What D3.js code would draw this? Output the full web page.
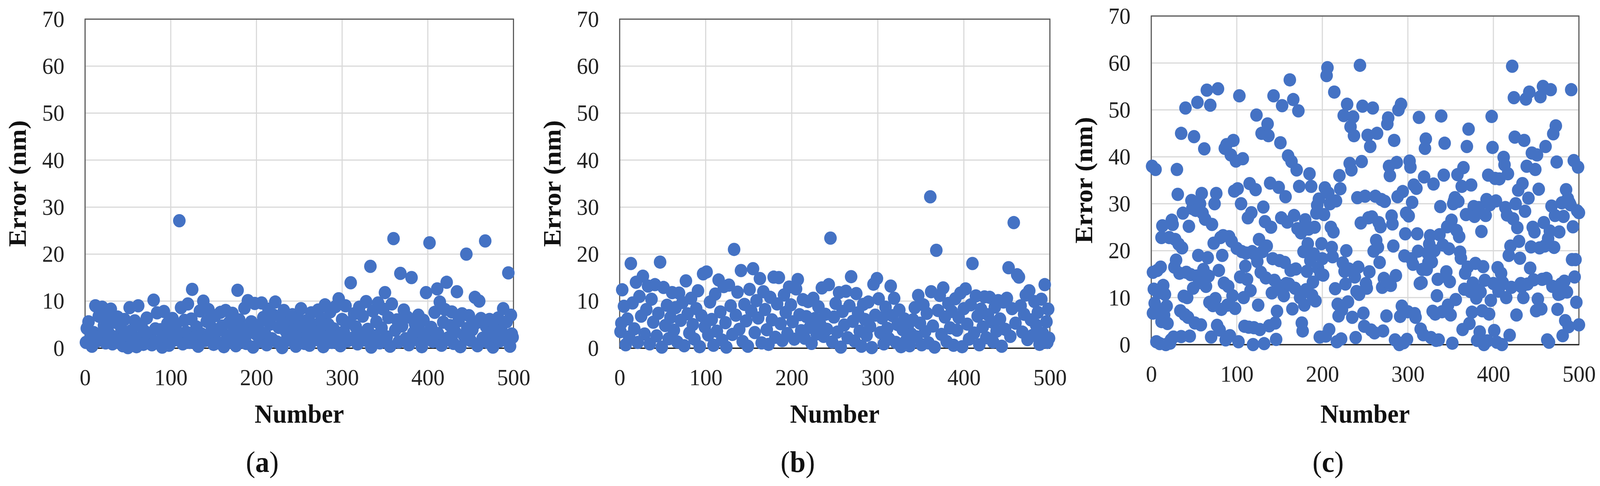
<!DOCTYPE html>
<html lang="en">
<head>
<meta charset="UTF-8">
<title>Error scatter</title>
<script src="https://d3js.org/d3.v7.min.js"></script>
<style>
  html, body { margin: 0; background: white; overflow: hidden; width: 100vw; height: 100vh; }
  svg { display: block; width: 100vw; height: 100vh; }
  .tick text { font-family: "Liberation Serif", "DejaVu Serif", serif; font-size: 60px; fill: #222; }
  .title { font-family: "Liberation Serif", "DejaVu Serif", serif; font-weight: bold; font-size: 68px; fill: #111; }
  .label { font-family: "Liberation Serif", "DejaVu Serif", serif; font-size: 76px; fill: #111; }
</style>
</head>
<body>
<div id="chart"></div>
<script>
// tick labels
const xTicks = [0, 100, 200, 300, 400, 500];
const yTicks = [0, 10, 20, 30, 40, 50, 60, 70];
const panelLabels = ["a", "b", "c"];

// panel (a): [number, error]
const errorsA = [
  [1,1.2],[2,4.2],[4,5.6],[6,2.1],[8,0.4],[10,3.3],[12,9],[14,1.5],[16,6.8],[18,2.6],[20,8.7],[22,4.8],[24,1.1],[26,7.2],[28,3.1],[30,8.3],[32,0.9],[34,5.5],[36,2.4],[38,6.6],[40,1.6],[42,4.4],[44,0.5],[46,6.1],[48,2.9],[50,0.1],[52,8.6],[54,3.7],[56,1.3],[58,5.8],[60,0.3],[62,9],[64,2.2],[66,4.6],[68,0.8],[70,3.5],[72,6.4],[74,1.9],[76,2.8],[78,0.7],[80,10.2],[82,4.1],[84,7.5],[86,1.4],[88,3.9],[90,0.2],[92,7.8],[94,2.5],[96,5.2],[98,0.6],[100,3.2],[102,6.3],[104,1.7],[106,4.9],[108,2.7],[110,27.1],[112,8.6],[114,0.9],[116,5.9],[118,3.4],[120,9.4],[122,1.2],[124,6.2],[125,12.5],[128,2.3],[130,4.5],[132,0.4],[134,7.9],[136,3],[138,10],[140,1.6],[142,5.7],[144,8.2],[146,2.1],[148,4.3],[150,0.8],[152,6.9],[154,3.6],[156,1.1],[158,7.6],[160,4.7],[162,0.3],[164,8],[166,2.6],[168,5.4],[170,1.5],[172,7.4],[174,3.8],[176,0.5],[178,12.3],[180,6],[182,2.4],[184,4.2],[186,8.5],[188,1],[190,10.1],[192,3.3],[194,5.6],[196,0.2],[198,9.5],[200,2.9],[202,4.8],[204,1.4],[206,9.6],[208,6.5],[210,3.1],[212,0.7],[214,8.3],[216,5.1],[218,2],[220,7],[222,9.8],[224,1.3],[226,4.4],[228,6.7],[230,0.1],[232,8],[234,3.7],[236,2.2],[238,5.3],[240,1.6],[242,7.1],[244,3.9],[246,0.4],[248,6.4],[250,2.8],[252,8.4],[254,4.6],[256,1],[258,5.8],[260,3.4],[262,0.6],[264,7.5],[266,2.5],[268,4.9],[270,1.8],[272,8.1],[274,3.6],[276,6.2],[278,0.3],[280,9.2],[282,2.7],[284,5],[286,7.7],[288,1.2],[290,4.1],[292,8.8],[294,2.3],[296,10.5],[298,0.5],[300,6.1],[302,3.5],[304,9],[306,1.5],[308,5.4],[310,13.9],[312,2.1],[314,7.3],[316,4.5],[318,0.9],[320,8.7],[322,3],[324,6.8],[326,1.7],[328,9.9],[330,4],[333,17.4],[334,0.2],[336,7.9],[338,2.6],[340,5.6],[342,9.6],[344,1.1],[346,4.3],[348,8.3],[350,11.8],[352,2.4],[354,6.5],[356,0.4],[358,9.4],[360,23.3],[362,3.8],[364,6],[366,1.3],[368,15.9],[370,4.7],[372,8.1],[374,2],[376,6.6],[378,0.7],[381,15],[383,3.2],[385,5.2],[387,1.8],[389,7],[391,3.6],[393,0.3],[395,5.9],[398,11.8],[400,2.5],[402,22.4],[404,4.4],[406,1.4],[408,7.6],[411,12.6],[412,3.1],[414,9.8],[416,0.6],[418,5.5],[420,8.2],[422,14],[424,2.2],[426,4.8],[428,7.7],[430,1],[432,3.4],[434,12],[436,5.8],[438,0.3],[440,7.3],[442,2.7],[445,20],[446,4.2],[448,6.9],[450,1.6],[452,3.9],[455,10.8],[456,5.3],[458,0.5],[460,10],[462,6.3],[464,2.1],[467,22.8],[468,4.6],[470,1.2],[472,6.1],[474,3.3],[476,0.2],[478,5],[480,2.4],[482,6.4],[484,1.5],[486,3.7],[488,8.4],[490,2.8],[492,5.6],[494,16],[496,0.4],[497,7],[498,3],[499,2.3]
];

// panel (b): [number, error]
const errorsB = [
  [1,3.5],[2,5.3],[3,12.4],[5,8.9],[7,0.7],[9,6.2],[11,2.4],[13,18],[15,9.6],[17,4.1],[19,14],[21,1.2],[23,11],[25,6.8],[27,15.3],[29,3],[31,8.2],[33,13.2],[35,0.9],[37,10.4],[39,5.5],[41,13.5],[43,2.6],[45,7.4],[47,18.3],[49,0.2],[51,12.9],[53,4.8],[55,9.1],[57,2],[59,6.5],[61,11.8],[63,3.8],[65,8.6],[67,1.3],[69,11.7],[71,5.9],[73,9.7],[75,0.5],[77,14.3],[79,7.3],[81,3.2],[83,10.6],[85,5],[87,1.9],[89,8.4],[91,12.2],[93,0.3],[95,6.9],[97,15.8],[99,4.5],[101,16.2],[103,2.8],[105,9.8],[107,6.1],[109,0.6],[111,11.5],[113,3.6],[115,14.5],[117,7.7],[119,1.7],[121,13.1],[123,5.4],[124,0.2],[127,13.4],[129,9],[131,2.9],[133,21],[135,7],[137,11.9],[139,4],[141,16.5],[143,1.4],[145,9.3],[147,5.8],[149,0.4],[151,12.5],[153,7.9],[155,16.9],[157,3.3],[159,10.1],[161,6.4],[163,14.8],[165,1.1],[167,12],[169,8.2],[171,3.9],[173,0.8],[175,10.8],[177,6],[179,15.1],[181,2.3],[183,9.4],[185,15],[187,5.2],[189,1.6],[191,11.3],[193,7.6],[195,3.1],[197,13],[199,9.2],[201,5.6],[203,1.9],[205,12.6],[207,14.6],[209,7.1],[211,3.7],[213,10.3],[215,2.1],[217,6.7],[219,9.9],[221,4.4],[223,1],[225,10.6],[227,6.3],[229,3],[231,8.8],[233,5.1],[235,12.8],[237,2.5],[239,7.2],[241,4],[243,13.5],[245,23.4],[247,1.3],[249,6.6],[251,9.5],[253,3.4],[255,11.8],[257,0.2],[259,7.8],[261,4.9],[263,12.1],[265,2.2],[267,9],[269,15.2],[271,5.7],[273,1.5],[275,11.6],[277,7.5],[279,3.6],[281,0.4],[283,9.3],[285,6.1],[287,2.7],[289,9.8],[291,4.6],[293,0.1],[295,13.6],[297,7],[299,14.8],[301,10.5],[303,3.3],[305,6.4],[307,0.9],[309,8.7],[311,4.2],[313,2],[315,13.2],[317,6.9],[319,10.6],[321,1.2],[323,5],[325,8.1],[327,0.3],[329,3.9],[331,6.2],[333,1.6],[335,4.8],[337,0.5],[339,3],[341,6],[343,8.6],[345,2.4],[347,11.2],[349,5.3],[351,0.7],[353,9.2],[355,3.5],[357,7.4],[359,1.1],[361,32.2],[362,12],[364,4.7],[366,0.2],[368,20.8],[370,8],[372,11.2],[374,2.9],[376,12.8],[378,6.6],[380,1.4],[382,9.5],[384,4.3],[386,7.8],[388,0.6],[390,10.5],[392,3.8],[394,6.5],[396,11.7],[398,0.3],[400,8.4],[402,12.6],[404,5.1],[406,1.9],[408,9.2],[410,18],[412,3.2],[414,11.1],[416,6.8],[418,0.7],[420,8.3],[422,4.5],[424,10.9],[426,2.2],[428,7.1],[430,10.8],[432,5.6],[434,1.3],[436,8.7],[438,3.6],[440,10.1],[442,6.2],[444,0.4],[446,9.8],[448,4],[450,10.6],[452,17.1],[454,2.5],[456,8.4],[458,26.7],[460,5.3],[462,15.6],[464,15.1],[466,9],[468,3.4],[470,7.2],[472,11.3],[474,1.8],[476,12.2],[478,6],[480,2.7],[482,9.9],[484,4.9],[486,7.6],[488,0.8],[490,10.4],[492,3.1],[494,13.5],[496,5.6],[497,1.2],[498,8.3],[499,2.1]
];

// panel (c): [number, error]
const errorsC = [
  [1,38],[2,15.4],[2,6.7],[3,11.8],[4,8.8],[5,37.3],[6,0.6],[7,15.8],[8,11],[9,7.5],[10,0.2],[11,16.5],[12,4.9],[12,22.8],[13,25.3],[14,12.6],[15,6.3],[16,10.7],[17,0],[18,8.2],[19,4.5],[21,22.8],[22,0.3],[23,1],[24,26.5],[25,25.6],[26,1.6],[27,16.5],[28,22.4],[29,18],[30,37.3],[31,32],[32,21.4],[33,15.2],[34,7.2],[35,1.7],[35,45],[36,20.6],[37,28],[38,10.3],[39,6.4],[40,50.4],[41,15.4],[42,10],[43,5.8],[44,25.2],[45,1.8],[46,14.9],[47,30.7],[48,29],[49,12],[50,44.3],[51,4.6],[52,28.6],[53,14.6],[54,51.6],[55,19],[56,13.2],[57,30],[58,4.2],[59,32.2],[60,28],[61,16],[62,41.7],[63,26.7],[64,12.4],[65,54.2],[66,18.5],[67,14.6],[68,9],[69,51],[70,1.6],[71,25.6],[72,8.3],[73,21.6],[74,30],[75,9.8],[76,32.2],[77,4.1],[78,54.5],[79,15.8],[80,3.1],[81,22.8],[82,7.5],[83,19],[84,23.2],[85,13.1],[86,41.8],[87,1],[88,42.6],[89,8.4],[90,12.4],[91,23],[92,1.9],[93,40.4],[94,22],[95,10.4],[96,43.5],[97,32.7],[98,7.7],[99,39.1],[100,20.5],[101,33.2],[102,0.6],[103,53],[104,14.4],[105,30],[106,19.8],[107,39.6],[108,10],[109,3.9],[110,16.7],[111,19.5],[112,13.9],[113,27],[114,3.7],[115,34.3],[116,11.5],[117,28.1],[118,19.8],[119,0],[120,3.6],[121,19.2],[122,33],[123,48.9],[124,17.7],[125,8.4],[126,22.4],[127,3.2],[128,15.4],[129,45],[130,19.8],[131,29.3],[132,0.2],[133,26.2],[134,14.2],[135,21],[136,47],[137,44.5],[138,4],[139,34.4],[140,25],[141,11],[142,18.3],[143,53],[144,13.7],[145,4.6],[146,1.1],[147,7.1],[148,12.7],[149,33.5],[150,17.9],[151,43],[152,27],[153,50.9],[154,11.6],[155,10.4],[156,17.5],[157,31.5],[158,13],[159,26.1],[160,40.2],[161,12.9],[162,56.4],[163,15.8],[164,39],[165,7.6],[166,52.2],[167,27.5],[168,12],[169,16.1],[170,37.2],[171,24.7],[172,49.8],[173,33.7],[174,10],[175,23.8],[176,4.6],[177,2.9],[178,19.8],[179,8.4],[180,26.6],[181,11.7],[182,15.6],[183,21.5],[184,24.6],[185,36.4],[186,17.9],[187,33.7],[188,10.5],[189,13.3],[190,19.3],[191,25],[192,9.3],[193,28],[194,29.7],[195,16.3],[196,31],[197,1.6],[198,15],[199,21.5],[200,18.3],[201,14.8],[202,27.7],[203,33.4],[204,1.8],[205,57.3],[206,59],[207,32.3],[208,3.2],[209,30],[210,25],[211,20.7],[212,18.7],[213,24],[214,53.8],[215,11.9],[216,30.6],[217,0.6],[218,8.6],[219,6.1],[220,36],[221,33.2],[222,1.2],[223,7.4],[224,17.4],[225,48.8],[226,15.6],[227,12.9],[228,20],[229,51.2],[230,9.1],[231,16.1],[232,38.6],[233,46.4],[234,37.2],[235,5.8],[236,48.5],[237,44.5],[238,14.4],[239,1.5],[240,11.3],[241,31.3],[242,16.5],[243,10.7],[244,59.5],[245,25.9],[246,39],[247,50.8],[248,6.7],[249,3.9],[250,31.6],[251,13],[252,12],[253,44.6],[254,27],[255,15.5],[256,42.2],[257,3.1],[258,27.2],[259,50.4],[260,19.9],[261,2.5],[262,31.6],[263,22.2],[264,45],[265,20.7],[266,26],[267,17.5],[268,25.1],[269,30.9],[270,12.2],[271,2.9],[272,14.1],[273,30.5],[274,13.5],[275,6.1],[276,47],[277,48.3],[278,38],[279,36],[280,12.6],[281,27.4],[282,25.7],[283,21],[284,43.5],[285,1],[286,14.7],[287,38.8],[288,31.5],[289,50],[290,0],[291,6],[292,51.2],[293,8.2],[294,32.6],[295,0.4],[296,18.9],[297,23.6],[298,28],[299,1.1],[300,7],[301,27.4],[302,39.1],[303,37.8],[304,18.3],[305,30.3],[306,17.1],[307,34],[308,6.6],[309,5.8],[310,33.3],[311,23.6],[312,19.9],[313,48.4],[314,13],[315,3.3],[316,13.2],[317,16],[318,2.1],[319,35.7],[320,41.8],[321,43.8],[322,16],[323,19.5],[324,17.5],[325,21.4],[326,23.2],[327,1.5],[328,17.6],[329,7.1],[330,34.2],[331,20],[332,6.5],[333,0.9],[334,10.4],[335,13.9],[336,1],[337,23.4],[338,29.4],[339,48.7],[340,7],[341,21.2],[342,36.1],[343,42.9],[344,14.5],[345,15.5],[346,25.1],[347,8.4],[348,20.4],[349,13.4],[350,6.3],[351,26.5],[352,0.3],[353,30],[354,30.6],[355,31.3],[356,9.6],[357,24.3],[358,36.2],[359,30.5],[360,23],[361,19.7],[362,18.4],[363,33.7],[364,3.2],[365,37.7],[366,11.8],[367,15.2],[368,27.7],[369,42.2],[370,16.5],[371,45.9],[372,4.5],[373,11.3],[374,34],[375,6.9],[376,13.1],[377,29.4],[378,27.3],[379,17.3],[380,9.9],[381,0.9],[382,11.7],[383,29.2],[384,2.7],[385,11.2],[386,24.1],[387,7.2],[388,16.6],[389,0],[390,13.7],[391,27.5],[392,30.9],[393,0.8],[394,36.1],[395,6.5],[396,29.8],[397,9.4],[398,48.6],[399,42],[400,13],[401,3],[402,35.4],[403,30.6],[404,0.5],[405,16.4],[406,11.4],[407,35.3],[408,12.5],[409,15.2],[410,0],[411,13.2],[412,39.9],[413,38.3],[414,29.2],[415,10],[416,27.6],[417,36.4],[418,19],[419,2],[420,21],[421,12.2],[422,59.3],[423,26.8],[424,52.6],[425,44.2],[426,30],[427,6.3],[428,24.9],[429,32.9],[430,22],[431,18.4],[432,13],[433,12.3],[434,34.3],[435,10],[436,43.5],[437,28.4],[438,52.3],[439,38],[440,12.9],[441,31.2],[442,53.8],[443,16.3],[444,20.8],[445,40.8],[446,25],[447,13.8],[448,24],[449,37.3],[450,7.2],[451,40.4],[452,9.7],[453,33.1],[454,20.6],[455,52.8],[456,7.6],[457,13.9],[458,55],[459,26],[460,21],[461,42.2],[462,14.1],[463,1],[464,22.6],[465,0.5],[466,24.2],[467,54.3],[468,29.5],[469,12.4],[470,44.9],[471,20.7],[472,27.5],[473,46.6],[474,38.9],[475,7.5],[476,10.7],[477,24],[478,10.8],[479,12.9],[480,30.2],[481,1.9],[482,27.3],[483,13.5],[484,5.1],[485,33],[486,11.2],[487,31.1],[488,3.8],[489,30.2],[490,29.8],[491,54.3],[492,18.1],[493,25.1],[494,39.2],[495,14.4],[496,18.1],[497,9],[498,28.5],[499,37.8],[500,4.2],[500,28.1]
];

const panels = [
  { data: errorsA, left: 230, right: 1388, top: 49, bottom: 891 },
  { data: errorsB, left: 1675, right: 2838, top: 49, bottom: 891 },
  { data: errorsC, left: 3112, right: 4268, top: 41, bottom: 882 }
];

const W = 4325, H = 1244;
const svg = d3.select("#chart").append("svg")
  .attr("viewBox", `0 0 ${W} ${H}`)
  .attr("preserveAspectRatio", "none");

panels.forEach((p, i) => {
  const x = d3.scaleLinear().domain([0, 500]).range([p.left, p.right]);
  const y = d3.scaleLinear().domain([0, 70]).range([p.bottom, p.top]);
  const g = svg.append("g");

  // gridlines
  g.selectAll(".vg").data(xTicks).join("line")
    .attr("x1", d => x(d)).attr("x2", d => x(d))
    .attr("y1", p.top).attr("y2", p.bottom)
    .attr("stroke", "#d9d9d9").attr("stroke-width", 3);
  g.selectAll(".hg").data(yTicks).join("line")
    .attr("x1", p.left).attr("x2", p.right)
    .attr("y1", d => y(d)).attr("y2", d => y(d))
    .attr("stroke", "#d9d9d9").attr("stroke-width", 3);

  // frame
  g.append("rect")
    .attr("x", p.left).attr("y", p.top)
    .attr("width", p.right - p.left).attr("height", p.bottom - p.top)
    .attr("fill", "none").attr("stroke", "#595959").attr("stroke-width", 3);

  // axes (labels only)
  g.append("g").attr("transform", `translate(0,${p.bottom})`)
    .call(d3.axisBottom(x).tickValues(xTicks).tickSize(0).tickPadding(52))
    .call(a => a.select(".domain").attr("stroke", "#222").attr("stroke-width", 3));
  g.append("g").attr("transform", `translate(${p.left},0)`)
    .call(d3.axisLeft(y).tickValues(yTicks).tickSize(0).tickPadding(56))
    .call(a => a.select(".domain").remove());

  // points
  g.selectAll("circle").data(p.data).join("circle")
    .attr("cx", d => x(d[0])).attr("cy", d => y(d[1]))
    .attr("r", 17).attr("fill", "#4472c4");

  // titles
  const cx = (p.left + p.right) / 2;
  g.append("text").attr("class", "title")
    .attr("x", cx).attr("y", 1082).attr("text-anchor", "middle").text("Number");
  g.append("text").attr("class", "title")
    .attr("transform", `translate(${p.left - 160},${(p.top + p.bottom) / 2}) rotate(-90)`)
    .attr("text-anchor", "middle").text("Error (nm)");
  const lab = g.append("text").attr("class", "label")
    .attr("x", cx - 100).attr("y", 1208).attr("text-anchor", "middle");
  lab.append("tspan").text("(");
  lab.append("tspan").attr("font-weight", "bold").text(panelLabels[i]);
  lab.append("tspan").text(")");
});
</script>
</body>
</html>
